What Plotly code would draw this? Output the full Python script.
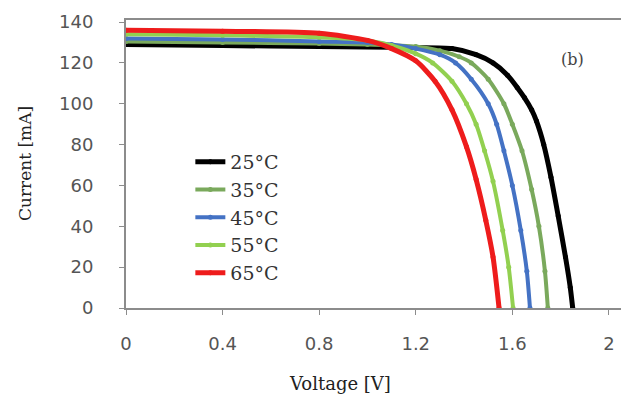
import plotly.graph_objects as go

# Data (Voltage [V], Current [mA])
labels = ["25°C", "35°C", "45°C", "55°C", "65°C"]
colors = ["#000000", "#7aa95c", "#4472c4", "#92d050", "#ee1c1c"]
widths = [5, 4, 4, 4, 5]

v25 = [0, 0.4, 0.8, 1.2, 1.35, 1.45, 1.52, 1.58, 1.62, 1.65, 1.68, 1.70, 1.73, 1.76, 1.79, 1.82, 1.84, 1.85]
i25 = [129, 128.5, 128, 127.5, 127, 124, 120, 114, 108, 103, 97, 91.5, 80, 64, 45, 25, 10, 0]

v35 = [0, 0.4, 0.8, 1.0, 1.2, 1.3, 1.38, 1.43, 1.5, 1.565, 1.6, 1.64, 1.68, 1.71, 1.735, 1.747]
i35 = [130.5, 130, 129.5, 129, 128, 126, 123, 120, 112, 100, 90, 77, 58, 40, 18, 0]

v45 = [0, 0.4, 0.8, 1.0, 1.1, 1.2, 1.3, 1.365, 1.43, 1.5, 1.535, 1.565, 1.6, 1.635, 1.66, 1.673]
i45 = [132, 131.5, 130.5, 130, 129, 127, 124, 120, 112, 100, 90, 77, 60, 38, 18, 0]

v55 = [0, 0.4, 0.8, 1.0, 1.1, 1.2, 1.27, 1.35, 1.41, 1.45, 1.485, 1.52, 1.56, 1.585, 1.603]
i55 = [134, 133.5, 132.5, 131, 128.5, 124.5, 120, 111, 100, 90, 77, 62, 38, 20, 0]

v65 = [0, 0.4, 0.8, 1.0, 1.1, 1.2, 1.28, 1.35, 1.41, 1.45, 1.49, 1.52, 1.545]
i65 = [136, 135.5, 134.5, 131, 127, 121, 111, 97, 79, 63, 43, 25, 0]

x_ticks = [0, 0.4, 0.8, 1.2, 1.6, 2]
x_ticklabels = ["0", "0.4", "0.8", "1.2", "1.6", "2"]
y_ticks = [0, 20, 40, 60, 80, 100, 120, 140]

series = [(v25, i25), (v35, i35), (v45, i45), (v55, i55), (v65, i65)]

fig = go.Figure()
for (v, i), name, c, w in zip(series, labels, colors, widths):
    fig.add_trace(go.Scatter(
        x=v, y=i, name=name, mode="lines+markers",
        line=dict(color=c, width=w, shape="spline", smoothing=0.7),
        marker=dict(color=c, size=5),
    ))

axis_col = "#8c8c8c"
tick_font = dict(family="DejaVu Sans", size=18, color="#555555")

fig.update_layout(
    width=621, height=399,
    margin=dict(l=126, r=0, t=20, b=91),
    paper_bgcolor="white", plot_bgcolor="white",
    showlegend=True,
    legend=dict(
        x=0.13, y=0.573, xanchor="left", yanchor="top",
        bgcolor="rgba(0,0,0,0)",
        font=dict(family="DejaVu Serif", size=19, color="#333333"),
        tracegroupgap=7, traceorder="normal",
    ),
    xaxis=dict(
        range=[0, 2.05], tickvals=x_ticks, ticktext=x_ticklabels,
        showgrid=False, zeroline=False,
        showline=True, linecolor=axis_col, linewidth=2, mirror=True,
        ticks="outside", ticklen=5, tickcolor=axis_col,
        tickfont=tick_font, ticklabelstandoff=13,
    ),
    yaxis=dict(
        range=[0, 141], tickvals=y_ticks,
        showgrid=False, zeroline=False,
        showline=True, linecolor=axis_col, linewidth=2,
        ticks="outside", ticklen=5, tickcolor=axis_col,
        tickfont=tick_font, ticklabelstandoff=22,
    ),
    annotations=[
        dict(text="Voltage [V]", xref="paper", yref="paper",
             x=(340 - 126) / 495, y=-(383 - 308) / 288, xanchor="center", yanchor="middle",
             showarrow=False, font=dict(family="DejaVu Serif", size=18, color="#222222")),
        dict(text="Current [mA]", xref="paper", yref="paper",
             x=-(126 - 25) / 495, y=(308 - 164) / 288, xanchor="center", yanchor="middle",
             textangle=-90, showarrow=False,
             font=dict(family="DejaVu Serif", size=17, color="#222222")),
        dict(text="(b)", xref="paper", yref="paper",
             x=(572 - 126) / 495, y=(308 - 60) / 288, xanchor="center", yanchor="middle",
             showarrow=False, font=dict(family="DejaVu Serif", size=16, color="#444444")),
    ],
)

fig.write_html("out.html")
